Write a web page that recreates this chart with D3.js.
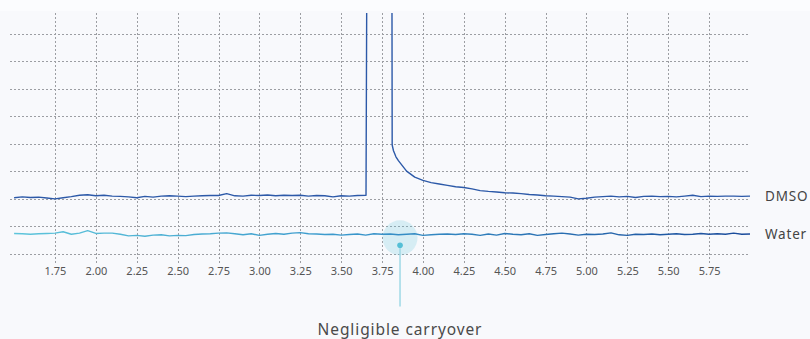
<!DOCTYPE html>
<html>
<head>
<meta charset="utf-8">
<script src="https://cdn.jsdelivr.net/npm/d3@7"></script>
<style>
  html, body { margin: 0; padding: 0; background: #f8f9fc; }
  svg { display: block; font-family: "Noto Sans", "Open Sans", sans-serif; }
</style>
</head>
<body>
<div id="chart"></div>
<script>
const WIDTH = 810;
const HEIGHT = 339;

// retention time axis (minutes)
const xTicks = [1.75, 2.0, 2.25, 2.5, 2.75, 3.0, 3.25, 3.5, 3.75, 4.0, 4.25, 4.5, 4.75, 5.0, 5.25, 5.5, 5.75];
const yGrid = [0, 1, 2, 3, 4, 5, 6, 7, 8];

// sampling grid 1.50 .. 6.00 every 0.05 min
const times = d3.range(91).map(i => +(1.5 + i * 0.05).toFixed(2));

// injection of water blank after DMSO: signal in arbitrary units
const waterSignal = [
  0.73, 0.72, 0.70, 0.72, 0.73, 0.74, 0.79, 0.70, 0.74, 0.83,
  0.73, 0.74, 0.74, 0.70, 0.64, 0.66, 0.63, 0.67, 0.68, 0.64,
  0.66, 0.65, 0.69, 0.71, 0.72, 0.74, 0.75, 0.72, 0.68, 0.72,
  0.66, 0.70, 0.73, 0.70, 0.74, 0.76, 0.72, 0.71, 0.69, 0.70,
  0.67, 0.69, 0.71, 0.67, 0.72, 0.70, 0.71, 0.68, 0.70, 0.72,
  0.66, 0.68, 0.70, 0.71, 0.69, 0.72, 0.70, 0.66, 0.71, 0.67,
  0.73, 0.70, 0.68, 0.72, 0.66, 0.69, 0.72, 0.74, 0.71, 0.67,
  0.70, 0.69, 0.71, 0.75, 0.68, 0.66, 0.70, 0.69, 0.71, 0.68,
  0.70, 0.72, 0.69, 0.70, 0.73, 0.70, 0.72, 0.70, 0.74, 0.70,
  0.71
];

// DMSO run (null = inside the solvent peak, see dmsoPeak)
const dmsoSignal = [
  2.03, 2.06, 2.04, 2.05, 2.02, 1.99, 2.03, 2.07, 2.12, 2.14,
  2.10, 2.12, 2.09, 2.08, 2.06, 2.03, 2.08, 2.05, 2.09, 2.10,
  2.09, 2.07, 2.09, 2.10, 2.11, 2.11, 2.18, 2.10, 2.09, 2.12,
  2.11, 2.13, 2.10, 2.12, 2.11, 2.12, 2.09, 2.11, 2.10, 2.06,
  2.10, 2.09, 2.11, null, null, null, null, 3.38, 3.00, 2.78,
  2.66, 2.58, 2.53, 2.48, 2.43, 2.40, 2.35, 2.29, 2.26, 2.24,
  2.21, 2.20, 2.18, 2.15, 2.13, 2.10, 2.09, 2.07, 2.05, 1.99,
  2.01, 2.05, 2.07, 2.09, 2.06, 2.08, 2.04, 2.08, 2.09, 2.07,
  2.08, 2.06, 2.09, 2.12, 2.07, 2.09, 2.08, 2.09, 2.09, 2.08,
  2.09
];

// solvent front of the DMSO injection (off scale)
const dmsoPeak = [
  [3.652, 2.12], [3.658, 12], [3.81, 12], [3.812, 3.95], [3.82, 3.74], [3.835, 3.52]
];

const seriesLabels = ["DMSO", "Water"];
const annotationText = "Negligible carryover";
const annotationAt = [3.86, 0.3];

const svg = d3.select("#chart")
  .append("svg")
  .attr("width", WIDTH)
  .attr("height", HEIGHT)
  .attr("viewBox", [0, 0, WIDTH, HEIGHT]);

svg.append("rect")
  .attr("width", WIDTH).attr("height", HEIGHT)
  .attr("fill", "#f8f9fc");
svg.append("rect")
  .attr("width", WIDTH).attr("height", 11)
  .attr("fill", "#fbfcfe");

const x = d3.scaleLinear().domain([1.475, 6.0]).range([10, 750]);
const y = d3.scaleLinear().domain([0, 8]).range([253.5, 33.7]);
const plotTop = 13;
const plotBottom = 263;

svg.append("defs").append("clipPath")
  .attr("id", "plot-clip")
  .append("rect")
  .attr("x", 0).attr("y", plotTop)
  .attr("width", WIDTH).attr("height", plotBottom - plotTop);

// grid
const grid = svg.append("g")
  .attr("stroke", "#9c9ea3")
  .attr("stroke-width", 1)
  .attr("stroke-dasharray", "2,2");

grid.selectAll(".hgrid")
  .data(yGrid)
  .enter()
  .append("line")
  .attr("class", "hgrid")
  .attr("x1", 10).attr("x2", 750)
  .attr("y1", d => Math.round(y(d)) + 0.5)
  .attr("y2", d => Math.round(y(d)) + 0.5);

grid.selectAll(".vgrid")
  .data(xTicks)
  .enter()
  .append("line")
  .attr("class", "vgrid")
  .attr("x1", d => Math.round(x(d)) + 0.5)
  .attr("x2", d => Math.round(x(d)) + 0.5)
  .attr("y1", plotTop).attr("y2", plotBottom);

// x axis tick labels
const xAxis = d3.axisBottom(x)
  .tickValues(xTicks)
  .tickFormat(d3.format(".2f"))
  .tickSize(0)
  .tickPadding(0);

const axisG = svg.append("g")
  .attr("transform", `translate(0, ${plotBottom + 4})`)
  .call(xAxis);
axisG.select(".domain").remove();
axisG.selectAll("text")
  .attr("fill", "#555")
  .style("font-size", "11px")
  .style("font-family", '"Noto Sans", sans-serif');

// series
const water = times.map((t, i) => [t, waterSignal[i]]);
const dmso = times
  .map((t, i) => [t, dmsoSignal[i]])
  .filter(d => d[1] !== null)
  .concat(dmsoPeak)
  .sort((a, b) => a[0] - b[0]);

const line = d3.line()
  .x(d => x(d[0]))
  .y(d => y(d[1]));

const grad = svg.select("defs").append("linearGradient")
  .attr("id", "water-grad")
  .attr("gradientUnits", "userSpaceOnUse")
  .attr("x1", x(1.5)).attr("x2", x(6.0))
  .attr("y1", 0).attr("y2", 0);
grad.append("stop").attr("offset", "0%").attr("stop-color", "#5ec5db");
grad.append("stop").attr("offset", "45%").attr("stop-color", "#3a98cc");
grad.append("stop").attr("offset", "100%").attr("stop-color", "#1a4a9a");

// annotation halo sits below the lines
const [ax, ay] = annotationAt;
svg.append("circle")
  .attr("cx", x(ax)).attr("cy", y(0.57))
  .attr("r", 17.5)
  .attr("fill", "#5ec5db")
  .attr("fill-opacity", 0.22);

const lines = svg.append("g").attr("clip-path", "url(#plot-clip)");

lines.append("path")
  .datum(dmso)
  .attr("fill", "none")
  .attr("stroke", "#2c59a8")
  .attr("stroke-width", 1.4)
  .attr("stroke-linejoin", "round")
  .attr("d", line);

lines.append("path")
  .datum(water)
  .attr("fill", "none")
  .attr("stroke", "url(#water-grad)")
  .attr("stroke-width", 1.4)
  .attr("stroke-linejoin", "round")
  .attr("d", line);

// annotation
svg.append("line")
  .attr("x1", x(ax)).attr("x2", x(ax))
  .attr("y1", y(ay)).attr("y2", 306.5)
  .attr("stroke", "#9fd9e6")
  .attr("stroke-width", 1.5);

svg.append("circle")
  .attr("cx", x(ax)).attr("cy", y(ay))
  .attr("r", 2.8)
  .attr("fill", "#55bfd6");

svg.append("text")
  .attr("x", x(ax))
  .attr("y", 335)
  .attr("text-anchor", "middle")
  .attr("fill", "#4a4a4a")
  .style("font-size", "15.5px")
  .style("letter-spacing", "0.9px")
  .text(annotationText);

// series labels
svg.selectAll(".series-label")
  .data(seriesLabels)
  .enter()
  .append("text")
  .attr("class", "series-label")
  .attr("x", 765)
  .attr("y", (d, i) => y(i === 0 ? 2.08 : 0.71))
  .attr("dy", "0.35em")
  .attr("fill", "#444")
  .style("font-size", "13.5px")
  .style("letter-spacing", "0.8px")
  .text(d => d);
</script>
</body>
</html>
